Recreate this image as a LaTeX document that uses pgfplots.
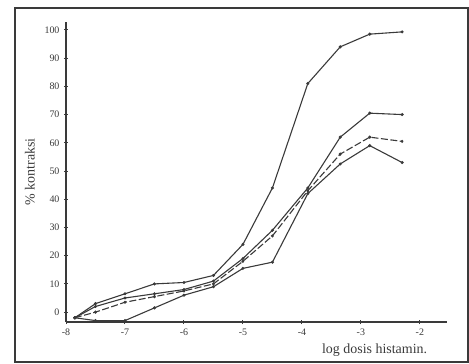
\documentclass[border=0pt]{standalone}
\usepackage{fontspec}
\setmainfont{Liberation Serif}
\usepackage{pgfplots}
\pgfplotsset{compat=1.18}
\definecolor{ink}{HTML}{3A3A3A}
\begin{document}
\begin{tikzpicture}
\path (0,0) rectangle (469bp,-364bp);
\draw[ink, line width=1.6bp] (15bp,-8bp) rectangle (468bp,-362bp);
\begin{axis}[
  at={(66bp,-322bp)}, anchor=south west,
  scale only axis, width=381bp, height=300bp,
  xmin=-8, xmax=-1.54, ymin=-3.5, ymax=102.8,
  axis x line=bottom, axis y line=left,
  axis line style={-, ink, line width=1.5bp},
  every outer x axis line/.append style={-},
  every outer y axis line/.append style={-},
  xtick={-8,-7,-6,-5,-4,-3,-2},
  xticklabels={-8,-7,-6,-5,-4,-3,-2},
  ytick={0,10,20,30,40,50,60,70,80,90,100},
  yticklabels={0,10,20,30,40,50,60,70,80,90,100},
  tick align=center, major tick length=4bp,
  tick style={ink, line width=1bp},
  tick label style={font=\fontsize{10}{12}\selectfont, text=ink},
  xticklabel style={yshift=-1bp},
  yticklabel style={xshift=-1bp},
  xlabel={log dosis histamin.},
  ylabel={\% kontraksi},
  label style={font=\fontsize{14}{16}\selectfont, text=ink},
  x label style={at={(axis description cs:0.81,-0.095)}, anchor=center},
  y label style={at={(axis description cs:-0.0945,0.5)}, anchor=center},
  clip=false,
]
\addplot[ink, line width=1.1bp, mark=*, mark size=0.9bp] coordinates {
(-7.85,-2) (-7.5,3) (-7,6.5) (-6.5,10) (-6,10.5) (-5.5,13) (-5,24) (-4.5,44) (-3.9,81) (-3.35,94) (-2.85,98.5) (-2.3,99.3)};
\addplot[ink, line width=1.1bp, mark=*, mark size=0.9bp] coordinates {
(-7.85,-2) (-7.5,2) (-7,5) (-6.5,6.5) (-6,8) (-5.5,11) (-5,19) (-4.5,29) (-3.9,44) (-3.35,62) (-2.85,70.5) (-2.3,70)};
\addplot[ink, line width=1.1bp, mark=*, mark size=0.9bp, dash pattern=on 7bp off 2.5bp] coordinates {
(-7.85,-2) (-7.5,0) (-7,3.5) (-6.5,5.5) (-6,7.5) (-5.5,10) (-5,18) (-4.5,27) (-3.9,43) (-3.35,56) (-2.85,62) (-2.3,60.5)};
\addplot[ink, line width=1.1bp, mark=*, mark size=0.9bp] coordinates {
(-7.85,-2) (-7.5,-3) (-7,-3) (-6.5,1.5) (-6,6) (-5.5,9) (-5,15.5) (-4.5,17.7) (-3.9,42) (-3.35,52.5) (-2.85,59) (-2.3,53)};
\end{axis}
\end{tikzpicture}
\end{document}
